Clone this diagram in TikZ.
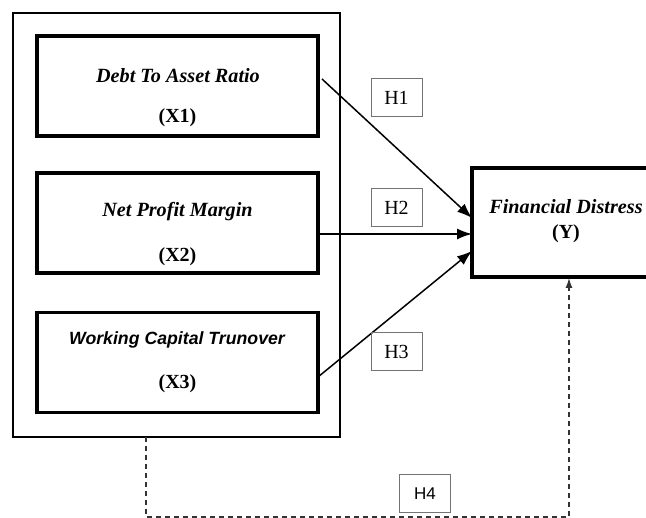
\documentclass[tikz,border=0pt]{standalone}
\usepackage{fontspec}
\setmainfont{Liberation Serif}
\newfontfamily\arialfont{Liberation Sans}
\usetikzlibrary{arrows.meta}
\tikzset{>={Latex[length=15pt,width=11pt]}}
\tikzset{
  varbox/.style={draw,line width=3.2pt,minimum width=281pt,minimum height=100pt},
  hypbox/.style={draw=black!55,line width=1pt,minimum width=51pt,minimum height=38pt,font=\fontsize{20}{22}\selectfont},
  vartitle/.style={font=\fontsize{20.2}{22}\selectfont\bfseries\itshape},
  varlabel/.style={font=\fontsize{20}{22}\selectfont\bfseries},
  path/.style={line width=1.5pt,->},
}

\begin{document}
\begin{tikzpicture}[x=1pt,y=-1pt]
  \useasboundingbox (0,0) rectangle (646,518);
  % independent variables
  \node[draw,line width=1.5pt,minimum width=327pt,minimum height=424pt] (grp) at (176.5,225) {};
  \node[varbox] (x1) at (177.5,86) {};
  \node[vartitle] (x1t) at (178,76) {Debt To Asset Ratio};
  \node[varlabel] (x1l) at (177.5,118) {(X1)};
  \node[varbox] (x2) at (177.5,223) {};
  \node[vartitle] (x2t) at (177.5,212) {Net Profit Margin};
  \node[varlabel] (x2l) at (177.5,257) {(X2)};
  \node[varbox] (x3) at (177.5,362.5) {};
  \node[font=\arialfont\fontsize{17.7}{20}\selectfont\bfseries\itshape] (x3t) at (177,340) {Working Capital Trunover};
  \node[varlabel] (x3l) at (177.5,384) {(X3)};
  % dependent variable (right side runs off the page)
  \node[draw,line width=3.2pt,minimum width=190pt,minimum height=109pt] (y) at (567,222.5) {};
  \node[vartitle] (yt) at (566,207) {Financial Distress};
  \node[varlabel] (yl) at (566,234) {(Y)};
  % arrow ends
  \coordinate (a1) at (322,79);
  \coordinate (b1) at (472,218);
  \coordinate (a2) at (318,234);
  \coordinate (b2) at (472,234);
  \coordinate (a3) at (318,377);
  \coordinate (b3) at (472,251);
  \coordinate (d0) at (146,437);
  \coordinate (d1) at (569,278);
  % hypotheses
  \draw[path] (a1) -- (b1);
  \draw[path] (a2) -- (b2);
  \draw[path] (a3) -- (b3);
  \draw[line width=1.3pt,black!80,dash pattern=on 5pt off 4pt,-{Latex[length=10pt,width=7pt]}]
    (d0) -- ++(0,80) -| (d1);
  \node[hypbox] (h1) at (396.5,98) {H1};
  \node[hypbox] (h2) at (396.5,207.5) {H2};
  \node[hypbox] (h3) at (396.5,352) {H3};
  \node[hypbox,font=\arialfont\fontsize{17}{20}\selectfont] (h4) at (425,493.5) {H4};
\end{tikzpicture}
\end{document}
